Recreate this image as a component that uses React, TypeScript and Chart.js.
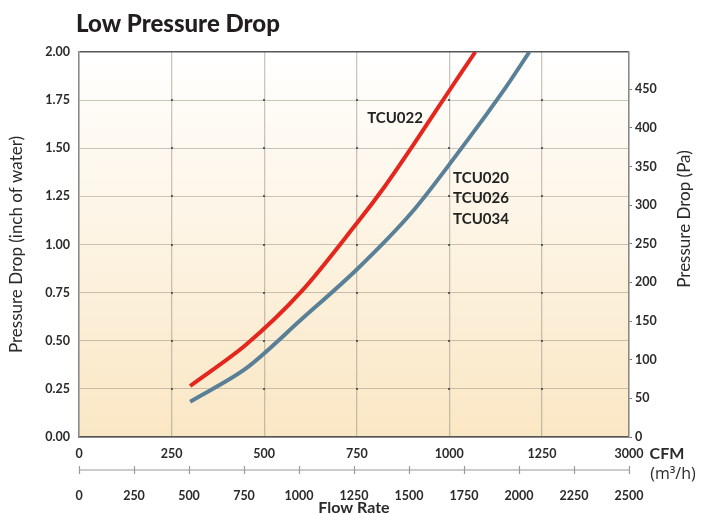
import { useEffect, useRef } from 'react';
import { Chart, registerables } from 'chart.js';

Chart.register(...registerables);

// ---- data ----
const cfmTicks = [0, 250, 500, 750, 1000, 1250];
const cfmMax = 1485;
const cfmEndLabel = '3000';
const m3hTicks = [0, 250, 500, 750, 1000, 1250, 1500, 1750, 2000, 2250, 2500];
const inchTicks = [0, 0.25, 0.5, 0.75, 1, 1.25, 1.5, 1.75, 2];
const paTicks = [0, 50, 100, 150, 200, 250, 300, 350, 400, 450];
const paMax = 498.2;

const tcu022Flow = [300, 450, 600, 750, 825, 900, 1000, 1070];
const tcu022Drop = [0.265, 0.478, 0.755, 1.11, 1.3, 1.51, 1.8, 2.0];
const tcu020Flow = [300, 450, 600, 750, 900, 1050, 1150, 1216];
const tcu020Drop = [0.183, 0.355, 0.61, 0.87, 1.17, 1.545, 1.81, 2.0];

const titleText = 'Low Pressure Drop';
const yTitle = 'Pressure Drop (inch of water)';
const y2Title = 'Pressure Drop (Pa)';
const xTitle = 'Flow Rate';
const xUnitTop = 'CFM';
const xUnitBottom = '(m³/h)';
const label022 = ['TCU022'];
const label020 = ['TCU020', 'TCU026', 'TCU034'];

const FONT = 'Lato, "Open Sans", "DejaVu Sans", sans-serif';
const TEXT = '#2a2a2a';
const RED = '#e4261c';
const BLUE = '#5a8098';

const bgPlugin = {
  id: 'bg',
  beforeDraw(chart: any) {
    const { ctx, chartArea: a } = chart;
    const g = ctx.createLinearGradient(0, a.top, 0, a.bottom);
    g.addColorStop(0, '#ffffff');
    g.addColorStop(1, '#fae7c4');
    ctx.save();
    ctx.fillStyle = g;
    ctx.fillRect(a.left, a.top, a.right - a.left, a.bottom - a.top);
    ctx.restore();
  },
  beforeDatasetsDraw(chart: any) {
    const { ctx } = chart;
    const x = chart.scales.x;
    const y = chart.scales.y;
    ctx.save();
    ctx.fillStyle = '#5a5a5a';
    cfmTicks.slice(1).forEach((cv) => {
      inchTicks.slice(1, -1).forEach((iv) => {
        const px = Math.round(x.getPixelForValue(cv));
        const py = Math.round(y.getPixelForValue(iv));
        ctx.fillRect(px - 1, py - 1, 2, 2);
      });
    });
    ctx.restore();
  },
  afterDraw(chart: any) {
    const { ctx, chartArea: a } = chart;
    const x = chart.scales.x;
    const y = chart.scales.y;
    const x2 = chart.scales.x2;
    ctx.save();
    // title
    ctx.fillStyle = '#221e1f';
    ctx.font = `900 24px ${FONT}`;
    ctx.textAlign = 'left';
    ctx.textBaseline = 'alphabetic';
    ctx.fillText(titleText, a.left - 3, 32);

    // second flow axis line and ticks
    const ly = x2.top;
    ctx.strokeStyle = '#9a9a9a';
    ctx.lineWidth = 1.2;
    ctx.beginPath();
    ctx.moveTo(x2.getPixelForValue(0), ly);
    ctx.lineTo(x2.getPixelForValue(2500), ly);
    m3hTicks.forEach((v) => {
      const px = Math.round(x2.getPixelForValue(v)) + 0.5;
      ctx.moveTo(px, ly - 4);
      ctx.lineTo(px, ly + 4);
    });
    ctx.stroke();

    // unit labels
    ctx.fillStyle = TEXT;
    ctx.textAlign = 'center';
    ctx.textBaseline = 'middle';
    ctx.font = `bold 16px ${FONT}`;
    ctx.fillText(xUnitTop, 667, 454);
    ctx.font = `16px "Open Sans", ${FONT}`;
    ctx.fillText(xUnitBottom, 673, 474);

    // right axis title
    ctx.save();
    ctx.translate(685, 219);
    ctx.rotate(-Math.PI / 2);
    ctx.font = `17px ${FONT}`;
    ctx.fillText(y2Title, 0, 0);
    ctx.restore();

    // series labels
    ctx.font = `bold 15px ${FONT}`;
    ctx.textAlign = 'left';
    ctx.fillStyle = '#222';
    label022.forEach((t, i) => {
      ctx.fillText(t, x.getPixelForValue(778), y.getPixelForValue(1.657) + i * 20.5);
    });
    label020.forEach((t, i) => {
      ctx.fillText(t, x.getPixelForValue(1010), y.getPixelForValue(1.345) + i * 20.5);
    });
    ctx.restore();
  },
};

export default function App() {
  const ref = useRef<HTMLCanvasElement | null>(null);
  useEffect(() => {
    if (!ref.current) return;
    const tickFont = { family: FONT, size: 12.5, weight: 'bold' as const };
    const chart = new Chart(ref.current, {
      type: 'line',
      data: {
        datasets: [
          {
            label: 'TCU022',
            data: tcu022Flow.map((f, i) => ({ x: f, y: tcu022Drop[i] })),
            borderColor: RED,
            borderWidth: 4,
            pointRadius: 0,
            tension: 0.3,
            fill: false,
            xAxisID: 'x',
            yAxisID: 'y',
          },
          {
            label: 'TCU020 / TCU026 / TCU034',
            data: tcu020Flow.map((f, i) => ({ x: f, y: tcu020Drop[i] })),
            borderColor: BLUE,
            borderWidth: 4,
            pointRadius: 0,
            tension: 0.3,
            fill: false,
            xAxisID: 'x',
            yAxisID: 'y',
          },
        ],
      },
      options: {
        animation: false,
        responsive: false,
        maintainAspectRatio: false,
        layout: { padding: { top: 52, left: 0, right: 0, bottom: 0 } },
        plugins: {
          legend: { display: false },
          tooltip: { enabled: false },
          title: { display: false },
        },
        scales: {
          x: {
            type: 'linear',
            position: 'bottom',
            weight: 0,
            min: 0,
            max: cfmMax,
            afterBuildTicks: (s: any) => {
              s.ticks = [...cfmTicks, cfmMax].map((v) => ({ value: v }));
            },
            ticks: {
              autoSkip: false,
              maxRotation: 0,
              padding: 9,
              font: tickFont,
              color: TEXT,
              callback: (v: any) => (v === cfmMax ? cfmEndLabel : String(v)),
            },
            grid: {
              drawTicks: false,
              color: 'rgba(140,130,115,0.45)',
              lineWidth: 1.3,
            },
            border: { display: true, color: '#555', width: 1.5 },
            afterFit: (s: any) => {
              s.height = 33;
            },
          },
          x2: {
            type: 'linear',
            position: 'bottom',
            weight: 1,
            min: 0,
            max: 2500,
            afterBuildTicks: (s: any) => {
              s.ticks = m3hTicks.map((v) => ({ value: v }));
            },
            ticks: {
              autoSkip: false,
              maxRotation: 0,
              padding: 18,
              font: tickFont,
              color: TEXT,
              callback: (v: any) => String(v),
            },
            grid: { display: false, drawTicks: false },
            border: { display: false },
            title: {
              display: true,
              text: xTitle,
              color: TEXT,
              font: { family: FONT, size: 16, weight: 'bold', lineHeight: 1 },
              padding: { top: 0, bottom: -2 },
            },
            afterFit: (s: any) => {
              s.height = 44;
            },
          },
          y: {
            type: 'linear',
            position: 'left',
            min: 0,
            max: 2,
            afterBuildTicks: (s: any) => {
              s.ticks = inchTicks.map((v) => ({ value: v }));
            },
            ticks: {
              padding: 9,
              font: tickFont,
              color: TEXT,
              callback: (v: any) => Number(v).toFixed(2),
            },
            grid: {
              drawTicks: false,
              color: (c: any) => (c.tick && c.tick.value === 2 ? '#555' : 'rgba(140,130,115,0.45)'),
              lineWidth: (c: any) => (c.tick && c.tick.value === 2 ? 1.5 : 1),
            },
            border: { display: true, color: '#888', width: 1.5 },
            title: {
              display: true,
              text: yTitle,
              color: TEXT,
              font: { family: FONT, size: 17 },
              padding: { top: 6, bottom: 0 },
            },
            afterFit: (s: any) => {
              s.width = 79;
            },
          },
          y2: {
            type: 'linear',
            position: 'right',
            min: 0,
            max: paMax,
            afterBuildTicks: (s: any) => {
              s.ticks = paTicks.map((v) => ({ value: v }));
            },
            ticks: {
              padding: 3,
              font: tickFont,
              color: TEXT,
            },
            grid: {
              drawOnChartArea: false,
              drawTicks: true,
              tickLength: 3,
              color: '#777',
            },
            border: { display: true, color: '#888', width: 1.5 },
            afterFit: (s: any) => {
              s.width = 72;
            },
          },
        },
      } as any,
      plugins: [bgPlugin],
    });
    return () => chart.destroy();
  }, []);

  return (
    <div style={{ position: 'absolute', left: 0, top: 0, width: 701, height: 514, background: '#fff' }}>
      <canvas ref={ref} width={701} height={514} style={{ display: 'block', width: 701, height: 514 }} />
    </div>
  );
}
